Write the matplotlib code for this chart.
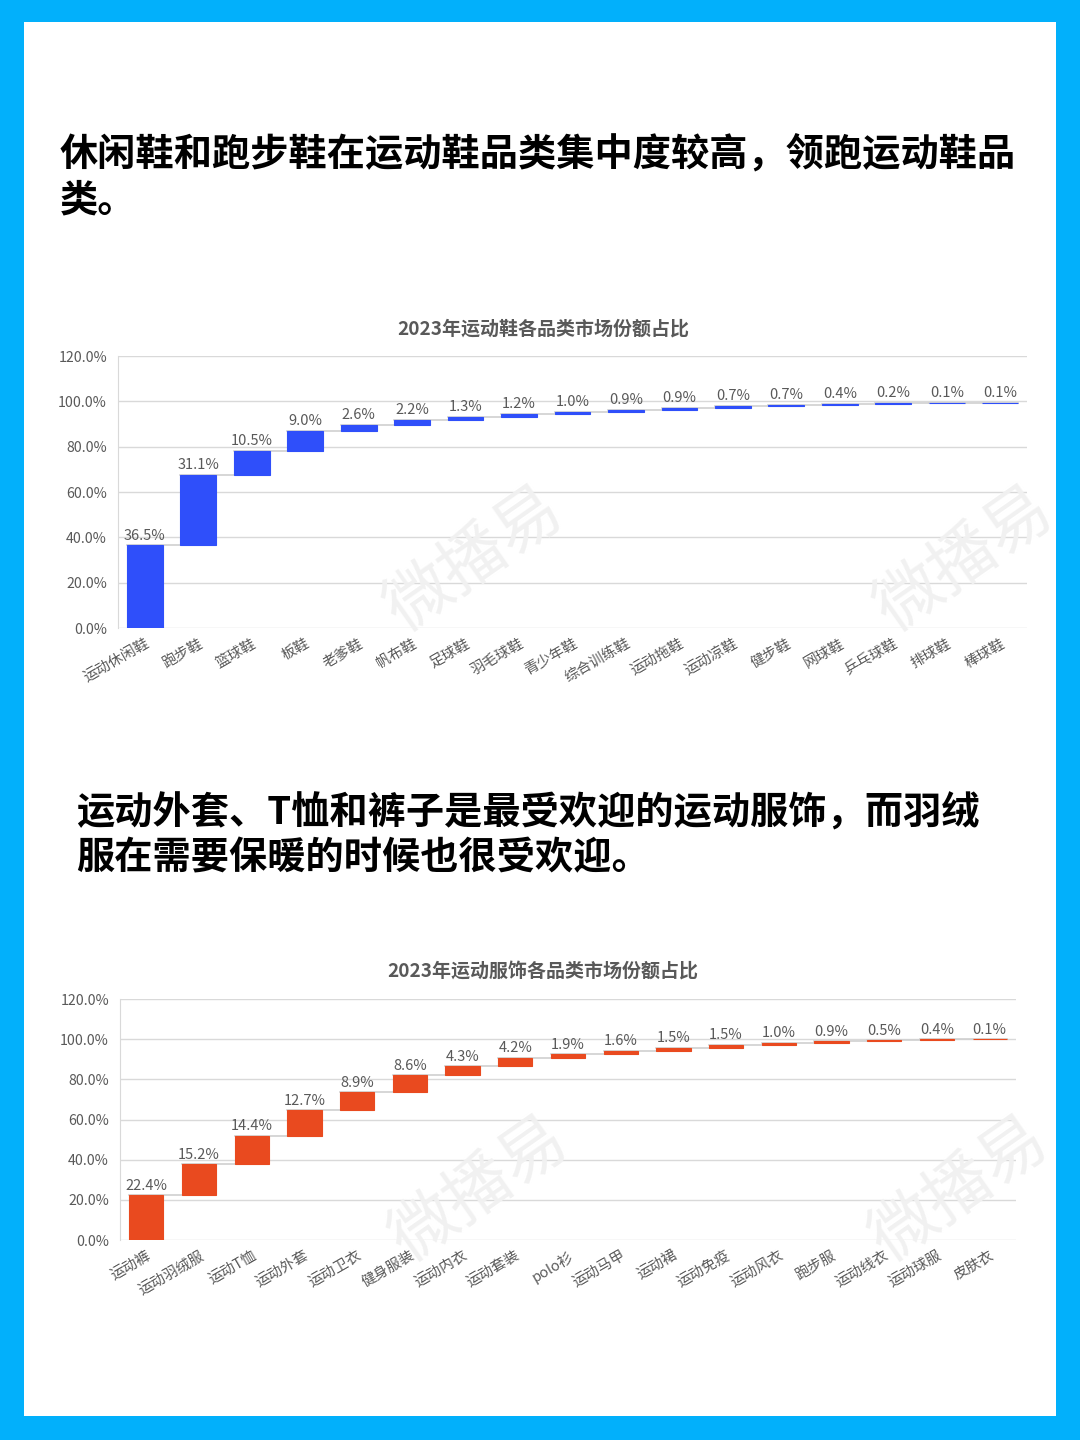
import numpy as np
import matplotlib
matplotlib.use("Agg")
import matplotlib.pyplot as plt
from matplotlib.patches import Rectangle
from matplotlib.ticker import FuncFormatter

plt.rcParams['font.family'] = ['Noto Sans CJK SC', 'DejaVu Sans']

# data
shoe_cats = ['运动休闲鞋', '跑步鞋', '篮球鞋', '板鞋', '老爹鞋', '帆布鞋', '足球鞋', '羽毛球鞋',
             '青少年鞋', '综合训练鞋', '运动拖鞋', '运动凉鞋', '健步鞋', '网球鞋', '乒乓球鞋',
             '排球鞋', '棒球鞋']
shoe_vals = [36.5, 31.1, 10.5, 9.0, 2.6, 2.2, 1.3, 1.2, 1.0, 0.9, 0.9, 0.7, 0.7, 0.4, 0.2, 0.1, 0.1]

wear_cats = ['运动裤', '运动羽绒服', '运动T恤', '运动外套', '运动卫衣', '健身服装', '运动内衣',
             '运动套装', 'polo衫', '运动马甲', '运动裙', '运动免疫', '运动风衣', '跑步服',
             '运动线衣', '运动球服', '皮肤衣']
wear_vals = [22.4, 15.2, 14.4, 12.7, 8.9, 8.6, 4.3, 4.2, 1.9, 1.6, 1.5, 1.5, 1.0, 0.9, 0.5, 0.4, 0.1]

heading1 = ['休闲鞋和跑步鞋在运动鞋品类集中度较高，领跑运动鞋品', '类。']
heading2 = ['运动外套、T恤和裤子是最受欢迎的运动服饰，而羽绒', '服在需要保暖的时候也很受欢迎。']

fig = plt.figure(figsize=(10.8, 14.4), dpi=100)
fig.patch.set_facecolor('#02b0fb')
fig.add_artist(Rectangle((24 / 1080, 24 / 1440), (1056 - 24) / 1080, (1418 - 24) / 1440,
                         transform=fig.transFigure, facecolor='white', edgecolor='none', zorder=0))

# headings
for i, line in enumerate(heading1):
    fig.text(60 / 1080, 1 - (155 + i * 45) / 1440, line, fontsize=27.5, fontweight='bold',
             color='black', va='center', ha='left')
for i, line in enumerate(heading2):
    fig.text(76 / 1080, 1 - (813 + i * 45) / 1440, line, fontsize=27.5, fontweight='bold',
             color='black', va='center', ha='left')


def waterfall(rect, cats, vals, color, title, title_y, width):
    ax = fig.add_axes(rect)
    ax.set_facecolor('none')
    x = np.arange(len(cats))
    vals = np.array(vals)
    bottoms = np.concatenate([[0], np.cumsum(vals)[:-1]])
    tops = bottoms + vals
    # connectors
    for i in range(len(vals) - 1):
        ax.plot([x[i] - width / 2, x[i + 1] + width / 2], [tops[i], tops[i]],
                color='#d0d0d0', lw=1.2, zorder=1)
    ax.bar(x, vals, bottom=bottoms, width=width, color=color, edgecolor=color, lw=0.8, zorder=2)
    for xi, t, v in zip(x, tops, vals):
        ax.text(xi, t + 1.2, f'{v:.1f}%', ha='center', va='bottom', fontsize=10.5,
                color='#595959')
    ax.set_ylim(0, 120)
    ax.set_xlim(-0.5, len(cats) - 0.5)
    ax.set_yticks(np.arange(0, 121, 20))
    ax.yaxis.set_major_formatter(FuncFormatter(lambda v, p: f'{v:.1f}%'))
    ax.grid(axis='y', color='#d9d9d9', lw=1, zorder=0)
    ax.set_axisbelow(True)
    for s in ['top', 'right', 'bottom']:
        ax.spines[s].set_visible(False)
    ax.spines['left'].set_color('#d9d9d9')
    ax.tick_params(axis='y', length=0, labelsize=10.2, labelcolor='#595959', pad=8)
    ax.tick_params(axis='x', length=0, labelsize=10.5, labelcolor='#595959', pad=6)
    ax.set_xticks(x)
    ax.set_xticklabels(cats, rotation=30, ha='right', rotation_mode='anchor')
    fig.text(543 / 1080, 1 - title_y / 1440, title, ha='center', va='center', fontsize=13.7,
             fontweight='bold', color='#595959')
    return ax


ax1 = waterfall([118 / 1080, 1 - 628 / 1440, 909 / 1080, 272 / 1440], shoe_cats, shoe_vals,
                '#2f4ffa', '2023年运动鞋各品类市场份额占比', 329, 0.67)
ax2 = waterfall([120 / 1080, 1 - 1240 / 1440, 896 / 1080, 241 / 1440], wear_cats, wear_vals,
                '#e94a1f', '2023年运动服饰各品类市场份额占比', 972, 0.65)

# faint watermarks
for (wx, wy) in [(475, 560), (965, 560), (480, 1190), (960, 1190)]:
    fig.text(wx / 1080, 1 - wy / 1440, '微播易', fontsize=48, color='#f1f1f1', rotation=35,
             ha='center', va='center', zorder=0.5)

fig.savefig('out.png', dpi=100, facecolor=fig.get_facecolor())
